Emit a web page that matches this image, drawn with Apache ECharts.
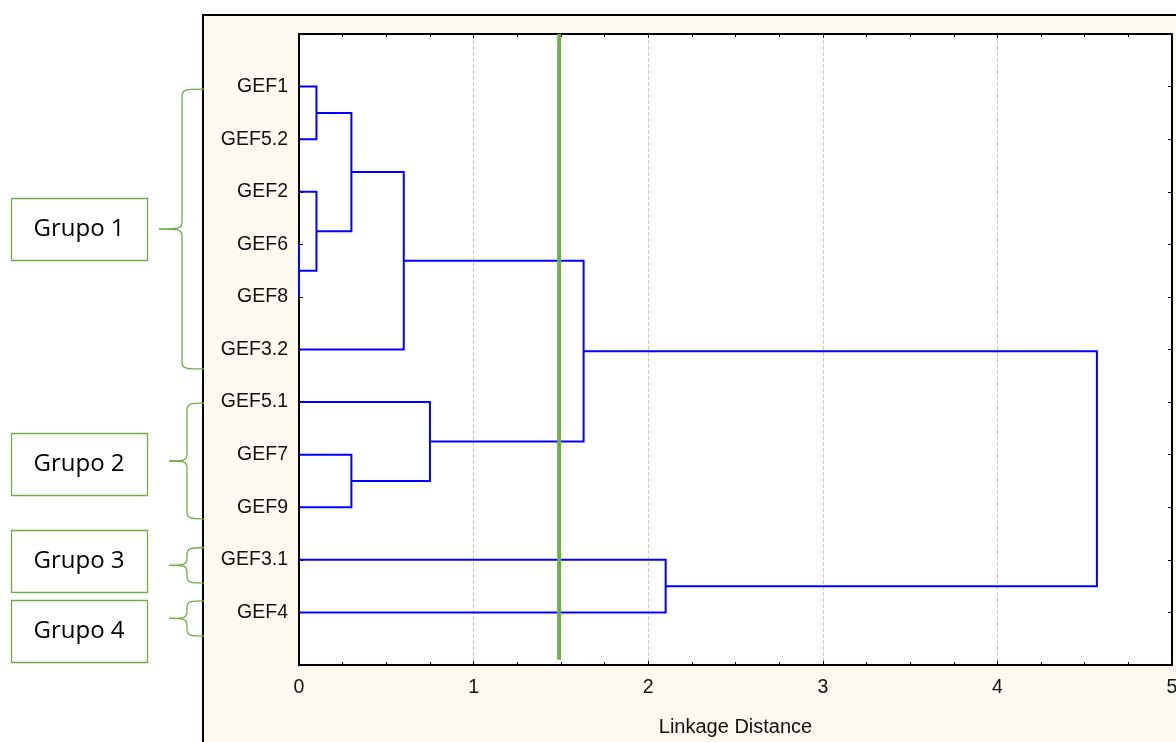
<!DOCTYPE html>
<html>
<head>
<meta charset="utf-8">
<script src="https://cdn.jsdelivr.net/npm/echarts@6/dist/echarts.min.js"></script>
<style>
  html, body { margin: 0; padding: 0; background: #fff; }
  #chart { width: 1176px; height: 742px; }
</style>
</head>
<body>
<div id="chart"></div>
<script>
// leaves, top to bottom (y = 1..11)
const leaves = ['GEF1', 'GEF5.2', 'GEF2', 'GEF6', 'GEF8', 'GEF3.2', 'GEF5.1', 'GEF7', 'GEF9', 'GEF3.1', 'GEF4']
// merges: [child A, child B, linkage distance]; nodes 0..10 are leaves, 11.. are merges in order
const merges = [
  [3, 4, 0.00],
  [0, 1, 0.10],
  [2, 11, 0.10],
  [12, 13, 0.30],
  [14, 5, 0.60],
  [7, 8, 0.30],
  [6, 16, 0.75],
  [15, 17, 1.63],
  [9, 10, 2.10],
  [18, 19, 4.57]
]
const cutLine = 1.49
const xTicks = [0, 1, 2, 3, 4, 5]
// group annotations: name, bracket range on the y axis (leaf units), box centre
const groupNames = ['Grupo 1', 'Grupo 2', 'Grupo 3', 'Grupo 4']
const groupFrom = [1.05, 7.02, 9.77, 10.78]
const groupTo = [6.37, 9.22, 10.44, 11.45]
const groupBox = [3.71, 8.18, 10.02, 11.35]

// node positions
const nodeY = leaves.map((l, i) => i + 1)
const nodeH = leaves.map(() => 0)
const links = []
merges.forEach(m => {
  links.push([nodeY[m[0]], nodeY[m[1]], nodeH[m[0]], nodeH[m[1]], m[2]])
  nodeY.push((nodeY[m[0]] + nodeY[m[1]]) / 2)
  nodeH.push(m[2])
})

const myChart = echarts.init(document.getElementById('chart'))
const font = "'Liberation Sans', Arial, sans-serif"

const xBase = {
  type: 'value',
  min: xTicks[0],
  max: xTicks[xTicks.length - 1],
  interval: 1,
  axisLine: { show: true, onZero: false, lineStyle: { color: '#000', width: 2 } },
  axisTick: { show: true, inside: true, length: 4, lineStyle: { color: '#000' } },
  minorTick: { show: true, splitNumber: 4, length: 3, lineStyle: { color: '#000' } },
}
const yBase = {
  type: 'value',
  min: 0,
  max: leaves.length + 1,
  interval: 1,
  inverse: true,
  splitLine: { show: false },
  axisLine: { show: true, onZero: false, lineStyle: { color: '#000', width: 2 } },
  axisTick: { show: true, inside: true, length: 4, lineStyle: { color: '#000' } },
}

const option = {
  backgroundColor: '#fff',
  animation: false,
  grid: {
    left: 299, top: 34, width: 873, height: 631,
    outerBoundsMode: 'none', containLabel: false,
    show: true, backgroundColor: '#fff', borderWidth: 0
  },
  xAxis: [
    Object.assign({}, xBase, {
      position: 'bottom',
      name: 'Linkage Distance',
      nameLocation: 'middle',
      nameGap: 52,
      nameTextStyle: { fontFamily: font, fontSize: 20, color: '#111' },
      axisLabel: { fontFamily: font, fontSize: 19.5, color: '#111', margin: 13 },
      splitLine: { show: true, lineStyle: { color: '#c8c8c8', type: 'dashed', width: 1 } },
    }),
    Object.assign({}, xBase, {
      position: 'top',
      axisLabel: { show: false },
      splitLine: { show: false },
    })
  ],
  yAxis: [
    Object.assign({}, yBase, {
      position: 'left',
      axisLabel: {
        fontFamily: font, fontSize: 19.5, color: '#111', margin: 11,
        formatter: v => (v >= 1 && v <= leaves.length) ? leaves[v - 1] : ''
      },
    }),
    Object.assign({}, yBase, {
      position: 'right',
      axisLabel: { show: false },
    })
  ],
  series: [
    {
      type: 'custom',
      data: links,
      clip: false,
      z: 3,
      renderItem: (params, api) => {
        const p1 = api.coord([api.value(2), api.value(0)])
        const p2 = api.coord([api.value(4), api.value(0)])
        const p3 = api.coord([api.value(4), api.value(1)])
        const p4 = api.coord([api.value(3), api.value(1)])
        return {
          type: 'polyline',
          shape: { points: [p1, p2, p3, p4] },
          style: { stroke: '#0000ff', lineWidth: 2, fill: null }
        }
      }
    },
    {
      type: 'line',
      data: [[cutLine, 0], [cutLine, 11.9]],
      symbol: 'none',
      z: 4,
      lineStyle: { color: '#70ad47', width: 4 }
    }
  ]
}
myChart.setOption(option)

// annotation layer: cream panel, group boxes and braces
const green = '#70ad47'
const graphics = [{
  type: 'rect',
  z: -10,
  silent: true,
  shape: { x: 203, y: 15, width: 1100, height: 800 },
  style: { fill: '#fdf9ee', stroke: '#000', lineWidth: 2 }
}]
function curve(x1, y1, cx1, cy1, cx2, cy2, x2, y2) {
  return {
    type: 'bezierCurve', z: 20, silent: true,
    shape: { x1: x1, y1: y1, cpx1: cx1, cpy1: cy1, cpx2: cx2, cpy2: cy2, x2: x2, y2: y2 },
    style: { stroke: green, lineWidth: 1.3, fill: null }
  }
}
function seg(x1, y1, x2, y2) {
  return {
    type: 'line', z: 20, silent: true,
    shape: { x1: x1, y1: y1, x2: x2, y2: y2 },
    style: { stroke: green, lineWidth: 1.3 }
  }
}
groupNames.forEach((name, i) => {
  const yTop = myChart.convertToPixel({ yAxisIndex: 0 }, groupFrom[i])
  const yBot = myChart.convertToPixel({ yAxisIndex: 0 }, groupTo[i])
  const yTip = (yTop + yBot) / 2
  const yBox = myChart.convertToPixel({ yAxisIndex: 0 }, groupBox[i])
  const xr = 204
  const xm = i === 0 ? 182 : 187
  const xt = i === 0 ? 159 : 169
  const r = Math.min(7, (yBot - yTop) / 4)
  graphics.push(curve(xr, yTop, xm + 4, yTop, xm, yTop, xm, yTop + r))
  graphics.push(seg(xm, yTop + r, xm, yTip - r))
  graphics.push(curve(xm, yTip - r, xm, yTip, xm - 4, yTip, xt, yTip))
  graphics.push(curve(xt, yTip, xm - 4, yTip, xm, yTip, xm, yTip + r))
  graphics.push(seg(xm, yTip + r, xm, yBot - r))
  graphics.push(curve(xm, yBot - r, xm, yBot, xm + 4, yBot, xr, yBot))
  graphics.push({
    type: 'rect',
    z: 20,
    silent: true,
    shape: { x: 11.5, y: Math.round(yBox - 31) + 0.5, width: 136, height: 62 },
    style: { fill: '#fff', stroke: green, lineWidth: 1.3 }
  })
  graphics.push({
    type: 'text',
    z: 21,
    silent: true,
    x: 79,
    y: yBox,
    style: { text: name, fontFamily: "'Open Sans', sans-serif", fontSize: 24, fill: '#000', align: 'center', verticalAlign: 'middle' }
  })
})
myChart.setOption({ graphic: graphics })
</script>
</body>
</html>
